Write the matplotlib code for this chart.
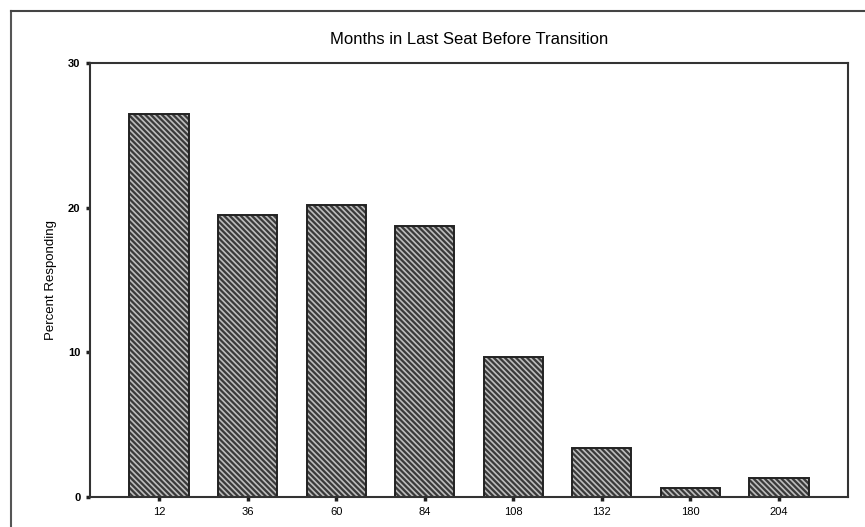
import matplotlib
matplotlib.use("Agg")
import matplotlib.pyplot as plt
from matplotlib.lines import Line2D

plt.rcParams['font.family'] = ['Liberation Sans', 'DejaVu Sans']
plt.rcParams['hatch.linewidth'] = 1.2

categories = ['12', '36', '60', '84', '108', '132', '180', '204']
percent = [26.5, 19.5, 20.2, 18.75, 9.7, 3.4, 0.6, 1.3]
yticks = [0, 10, 20, 30]
title = 'Months in Last Seat Before Transition'
ylabel = 'Percent Responding'

W, H = 865, 527
fig = plt.figure(figsize=(W / 100, H / 100), dpi=100)

# outer frame lines
fig.add_artist(Line2D([11 / W, 11 / W], [0, 1 - 11 / H], transform=fig.transFigure,
                      color='#555555', lw=1.5))
fig.add_artist(Line2D([11 / W, 1], [1 - 11 / H, 1 - 11 / H], transform=fig.transFigure,
                      color='#444444', lw=1.5))

ax = fig.add_axes([90 / W, 1 - 497 / H, (848 - 90) / W, (497 - 63) / H])
x = list(range(len(categories)))
# hatched fill
ax.bar(x, percent, width=0.67, facecolor='#3a3a3a', edgecolor='#bdbdbd',
       linewidth=0, hatch='\\\\\\\\\\\\')
# outlines
ax.bar(x, percent, width=0.67, fill=False, edgecolor='#222222', linewidth=1.4)

ax.set_xlim(-0.78, 7.78)
ax.set_ylim(0, 30)
ax.set_yticks(yticks)
ax.set_yticklabels([str(t) for t in yticks], fontsize=8, fontweight='bold')
ax.set_xticks(x)
ax.set_xticklabels(categories, fontsize=8)
ax.tick_params(axis='both', length=3, width=2.5, color='#222222', pad=4)

for s in ax.spines.values():
    s.set_color('#333333')
    s.set_linewidth(1.5)

ax.set_ylabel(ylabel, fontsize=9.5, labelpad=8)
fig.text(469 / W, 1 - 40 / H, title, ha='center', va='center', fontsize=12)

fig.savefig('out.png', dpi=100)
